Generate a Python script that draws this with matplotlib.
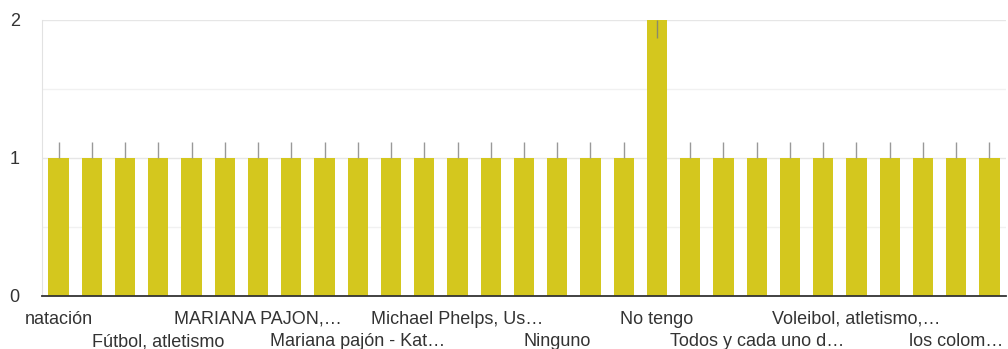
import matplotlib
matplotlib.use("Agg")
import matplotlib.pyplot as plt
from matplotlib.ticker import MultipleLocator

# ---- data ----
categories = [
    "natación", "", "", "Fútbol, atletismo", "", "",
    "MARIANA PAJON,…", "", "", "Mariana pajón - Kat…", "", "",
    "Michael Phelps, Us…", "", "", "Ninguno", "", "",
    "No tengo", "", "", "Todos y cada uno d…", "", "",
    "Voleibol, atletismo,…", "", "", "los colom…", "",
]
values = [1, 1, 1, 1, 1, 1, 1, 1, 1, 1, 1, 1, 1, 1, 1, 1, 1, 1,
          2, 1, 1, 1, 1, 1, 1, 1, 1, 1, 1]
y_ticks = [0, 1, 2]

plt.rcParams['font.family'] = ['Liberation Sans', 'DejaVu Sans']

fig = plt.figure(figsize=(10.08, 3.49), dpi=100)
ax = fig.add_axes([42/1008, 53/349, 964/1008, 276/349])

bar_color = '#d4c71e'
x = list(range(len(values)))
ax.bar(x, values, width=0.61, color=bar_color, zorder=3)

# annotation stems
for xi, v in zip(x, values):
    if v >= 2:
        ax.vlines(xi, v - 0.13, v, color='#8a8a6a', lw=1.0, zorder=4)
    else:
        ax.vlines(xi, v, v + 0.116, color='#999999', lw=1.0, zorder=4)

ax.set_xlim(-0.5, len(values) - 0.5)
ax.set_ylim(0, 2)
ax.yaxis.set_major_locator(MultipleLocator(1))
ax.yaxis.set_minor_locator(MultipleLocator(0.5))
ax.grid(axis='y', which='major', color='#e6e6e6', lw=1.0, zorder=0)
ax.grid(axis='y', which='minor', color='#f1f1f1', lw=1.0, zorder=0)
ax.set_yticks(y_ticks)
ax.set_yticklabels([str(t) for t in y_ticks], fontsize=13, color='#333333')
ax.tick_params(axis='y', which='both', length=0, pad=16)
ax.set_xticks([])

for s in ['top', 'right']:
    ax.spines[s].set_visible(False)
ax.spines['left'].set_color('#e2e2e2')
ax.spines['bottom'].set_color('#333333')
ax.spines['bottom'].set_linewidth(1.3)
ax.spines['bottom'].set_zorder(5)

k = 0
for xi, lab in zip(x, categories):
    if not lab:
        continue
    off = -23 if k % 2 == 0 else -46
    ax.annotate(lab, xy=(xi, 0), xycoords=('data', 'axes fraction'),
                xytext=(0, off * 0.72), textcoords='offset points',
                ha='center', va='center', fontsize=13, color='#333333',
                annotation_clip=False)
    k += 1

fig.savefig('out.png', dpi=100)
